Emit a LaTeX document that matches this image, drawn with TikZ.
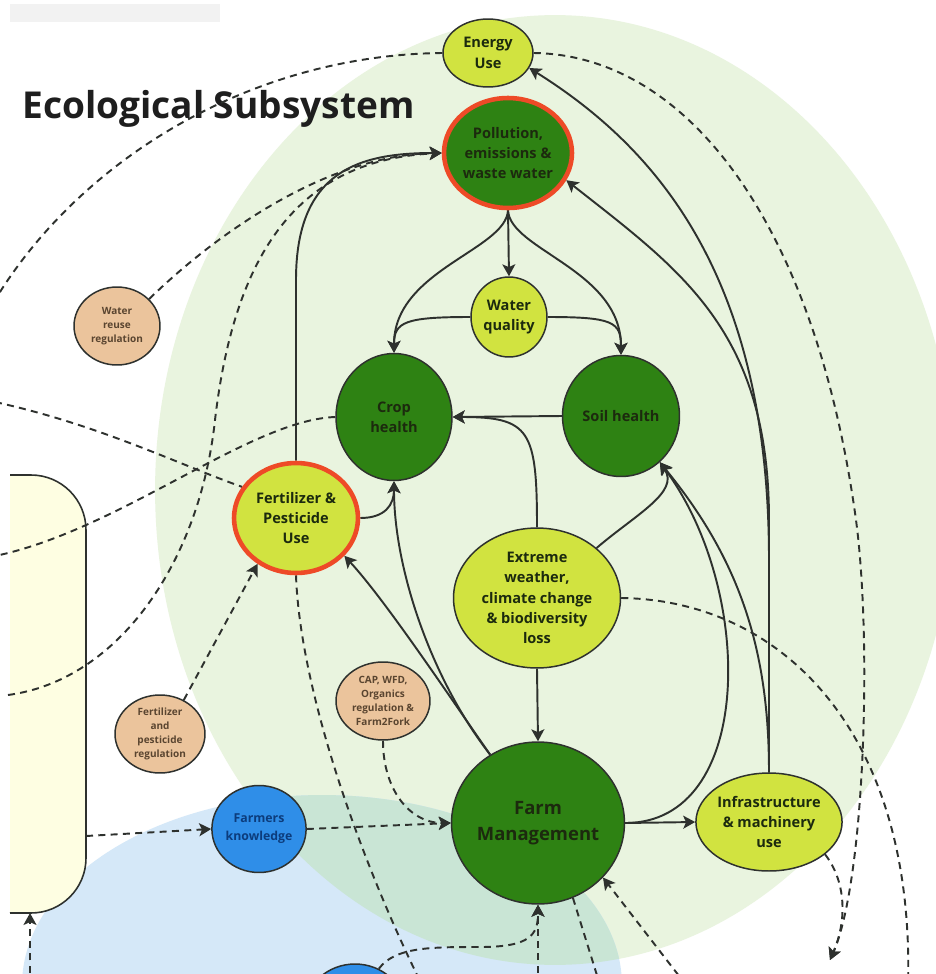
\documentclass[tikz,border=0pt]{standalone}
\usepackage{fontspec}
\setmainfont{Open Sans}
\usetikzlibrary{shapes.geometric,arrows.meta}
\pgfdeclarelayer{bg}
\pgfdeclarelayer{edges}
\pgfsetlayers{bg,edges,main}

\definecolor{lime}{HTML}{D1E340}
\definecolor{dkgreen}{HTML}{2E8213}
\definecolor{redring}{HTML}{EE4A27}
\definecolor{tanfill}{HTML}{EBC49C}
\definecolor{kblue}{HTML}{2F8EE8}
\definecolor{ecobg}{HTML}{E9F4DF}
\definecolor{socbg}{HTML}{D5E8F8}
\definecolor{mixbg}{HTML}{C9E5D5}
\definecolor{paleyel}{HTML}{FEFEE2}
\definecolor{ink}{HTML}{2E312E}
\definecolor{txtdark}{HTML}{1C2A0E}
\definecolor{regtext}{HTML}{5A4530}
\definecolor{bluetext}{HTML}{0C3C7C}
\definecolor{titleink}{HTML}{1E1E1E}

\tikzset{
  nodebase/.style={ellipse, draw=ink, line width=0.85pt, inner sep=0pt, align=center,
    font=\bfseries\fontsize{8.3}{11.6}\selectfont, text=txtdark},
  limenode/.style={nodebase, fill=lime},
  greennode/.style={nodebase, fill=dkgreen},
  ringed/.style={draw=redring, line width=2.6pt},
  regnode/.style={nodebase, fill=tanfill, text=regtext, font=\bfseries\fontsize{5.7}{8}\selectfont},
  bluenode/.style={nodebase, fill=kblue, text=bluetext, font=\bfseries\fontsize{7}{10.2}\selectfont},
  arrowline/.style={draw=ink, line width=1.1pt, -{Stealth[length=6.8pt,width=7.4pt,inset=1.6pt]}},
  bareline/.style={draw=ink, line width=1.1pt},
  dashedarrow/.style={arrowline, dash pattern=on 4pt off 3pt},
  dashedline/.style={bareline, dash pattern=on 4pt off 3pt},
}

\begin{document}
\begin{tikzpicture}[x=0.02cm,y=-0.02cm]
\useasboundingbox (0,0) rectangle (936,974);

% ---------- nodes ----------
\begin{scope}
\clip (0,0) rectangle (936,974);
\node[limenode, minimum width=1.8cm, minimum height=1.36cm] (energy) at (488,53) {Energy\\Use};
\node[greennode, ringed, minimum width=2.56cm, minimum height=2.2cm] (poll) at (508,153) {Pollution,\\emissions \&\\waste water};
\node[limenode, minimum width=1.52cm, minimum height=1.6cm] (wq) at (509,317) {Water\\quality};
\node[greennode, minimum width=2.32cm, minimum height=2.54cm] (crop) at (394,417) {Crop\\health};
\node[greennode, minimum width=2.34cm, minimum height=2.42cm] (soil) at (621,416) {Soil health};
\node[limenode, ringed, minimum width=2.48cm, minimum height=2.2cm] (fert) at (296,518) {Fertilizer \&\\Pesticide\\Use};
\node[limenode, minimum width=3.34cm, minimum height=2.8cm] (ew) at (537,598) {Extreme\\weather,\\climate change\\\& biodiversity\\loss};
\node[greennode, minimum width=3.44cm, minimum height=3.24cm, font=\bfseries\fontsize{10.5}{14.5}\selectfont] (fm) at (538,823) {Farm\\Management};
\node[limenode, minimum width=2.92cm, minimum height=1.96cm] (infra) at (769,822) {Infrastructure\\\& machinery\\use};
\node[regnode, minimum width=1.72cm, minimum height=1.56cm] (wrr) at (117,326) {Water\\reuse\\regulation};
\node[regnode, minimum width=1.8cm, minimum height=1.56cm] (fpr) at (160,734) {Fertilizer\\and\\pesticide\\regulation};
\node[regnode, minimum width=1.88cm, minimum height=1.56cm] (cap) at (383,701) {CAP, WFD,\\Organics\\regulation \&\\Farm2Fork};
\node[bluenode, minimum width=1.88cm, minimum height=1.74cm] (fk) at (259,829) {Farmers\\knowledge};
\node[bluenode, minimum width=2cm, minimum height=1.84cm] (b2) at (355,1010) {};
\end{scope}

% ---------- backdrop ----------
\begin{pgfonlayer}{bg}
\begin{scope}
\clip (0,0) rectangle (936,974);
\fill[white] (0,0) rectangle (936,974);
\fill[black!5] (10,4) rectangle (220,22);
\fill[ecobg] (555,490) ellipse[x radius=8cm, y radius=9.5cm];
\fill[socbg] (322,985) ellipse[x radius=6cm, y radius=3.8cm];
\begin{scope}
  \clip (555,490) ellipse[x radius=8cm, y radius=9.5cm];
  \fill[mixbg] (322,985) ellipse[x radius=6cm, y radius=3.8cm];
\end{scope}
% system boundary box on the left
\fill[paleyel] (10,475) -- (31,475) arc[start angle=90, end angle=0, radius=1.1cm]
  -- (86,858) arc[start angle=0, end angle=-90, radius=1.1cm] -- (10,913) -- cycle;
\draw[ink, line width=0.9pt] (10,475) -- (31,475) arc[start angle=90, end angle=0, radius=1.1cm]
  -- (86,858) arc[start angle=0, end angle=-90, radius=1.1cm] -- (10,913);
\node[anchor=base west, inner sep=0pt, text=titleink,
  font=\bfseries\fontsize{21.1}{24}\selectfont] (title) at (22,118) {Ecological Subsystem};
\end{scope}
\end{pgfonlayer}

% ---------- connectors ----------
\begin{pgfonlayer}{edges}
\begin{scope}
\clip (0,0) rectangle (936,974);
% solid causal links
\draw[arrowline] (poll.south) -- (wq.north);
\draw[arrowline] (poll.south) .. controls (506,250) and (394,270) .. (crop.north);
\draw[arrowline] (poll.south) .. controls (510,250) and (621,270) .. (soil.north);
\draw[arrowline] (wq.west) .. controls (405,317) and (394,322) .. (crop.north);
\draw[arrowline] (wq.east) .. controls (613,317) and (621,322) .. (soil.north);
\draw[arrowline] (soil.west) -- (crop.east);
\draw[arrowline] (ew.north) .. controls (537,430) and (530,417) .. (crop.east);
\draw[arrowline] (ew.40) .. controls (635,515) and (680,492) .. (soil.-50);
\draw[arrowline] (fert.east) .. controls (385,518) and (394,505) .. (crop.south);
\draw[arrowline] (fm.125) .. controls (432,680) and (394,570) .. (crop.south);
\draw[arrowline] (fm.125) .. controls (445,690) and (385,600) .. (fert.-38);
\draw[arrowline] (fert.north) -- (296,280) .. controls (296,170) and (360,153) .. (poll.west);
\draw[arrowline] (ew.south) -- (fm.north);
\draw[arrowline] (fm.east) -- (infra.west);
\draw[arrowline] (fm.east) .. controls (755,823) and (755,590) .. (soil.-50);
\draw[arrowline] (infra.north) .. controls (769,650) and (740,560) .. (soil.-50);
\draw[arrowline] (infra.north) -- (769,520) .. controls (769,330) and (680,270) .. (poll.-25);
\draw[arrowline] (infra.north) -- (769,560) .. controls (769,280) and (660,150) .. (energy.-20);

% dashed links
\coordinate (eL) at (-5,300);
\coordinate (sink) at (830,960);
\coordinate (ewout) at (908,985);
\coordinate (rectA) at (8,695);
\coordinate (cropL) at (-5,556);
\coordinate (fertL) at (-5,402);
\coordinate (fertD) at (422,985);
\coordinate (rectR) at (86,836);
\coordinate (fmB) at (538,985);
\coordinate (fmC) at (600,985);
\coordinate (fmD) at (686,985);
\coordinate (rectB) at (30,985);
\coordinate (rectBot) at (30,913);

\draw[dashedline] (energy.west) .. controls (250,55) and (80,160) .. (eL);
\draw[dashedarrow] (energy.east) .. controls (685,55) and (815,220) .. (856,520)
  .. controls (872,640) and (865,880) .. (sink);
\draw[dashedarrow] (infra.-30) .. controls (845,880) and (848,918) .. (sink);
\draw[dashedline] (ew.east) .. controls (780,600) and (915,730) .. (ewout);
\draw[dashedarrow] (wrr.40) .. controls (220,230) and (330,155) .. (poll.west);
\draw[dashedarrow] (rectA) .. controls (120,680) and (200,560) .. (215,420)
  .. controls (235,250) and (300,160) .. (poll.west);
\draw[dashedline] (crop.west) .. controls (250,420) and (120,530) .. (cropL);
\draw[dashedline] (fertL) .. controls (100,425) and (180,465) .. (fert.150);
\draw[dashedarrow] (fpr.55) -- (fert.-130);
\draw[dashedline] (fert.south) .. controls (300,690) and (360,860) .. (fertD);
\draw[dashedarrow] (rectR) -- (fk.west);
\draw[dashedarrow] (fk.east) -- (fm.west);
\draw[dashedarrow] (cap.south) .. controls (383,790) and (410,823) .. (fm.west);
\draw[dashedarrow] (b2.60) .. controls (395,947) and (430,947) .. (480,947)
  .. controls (530,947) and (538,935) .. (fm.south);
\draw[dashedarrow] (fmB) -- (fm.south);
\draw[dashedline] (fm.-65) -- (fmC);
\draw[dashedarrow] (fmD) -- (fm.-40);
\draw[dashedarrow] (rectB) -- (rectBot);
\end{scope}
\end{pgfonlayer}
\end{tikzpicture}
\end{document}
